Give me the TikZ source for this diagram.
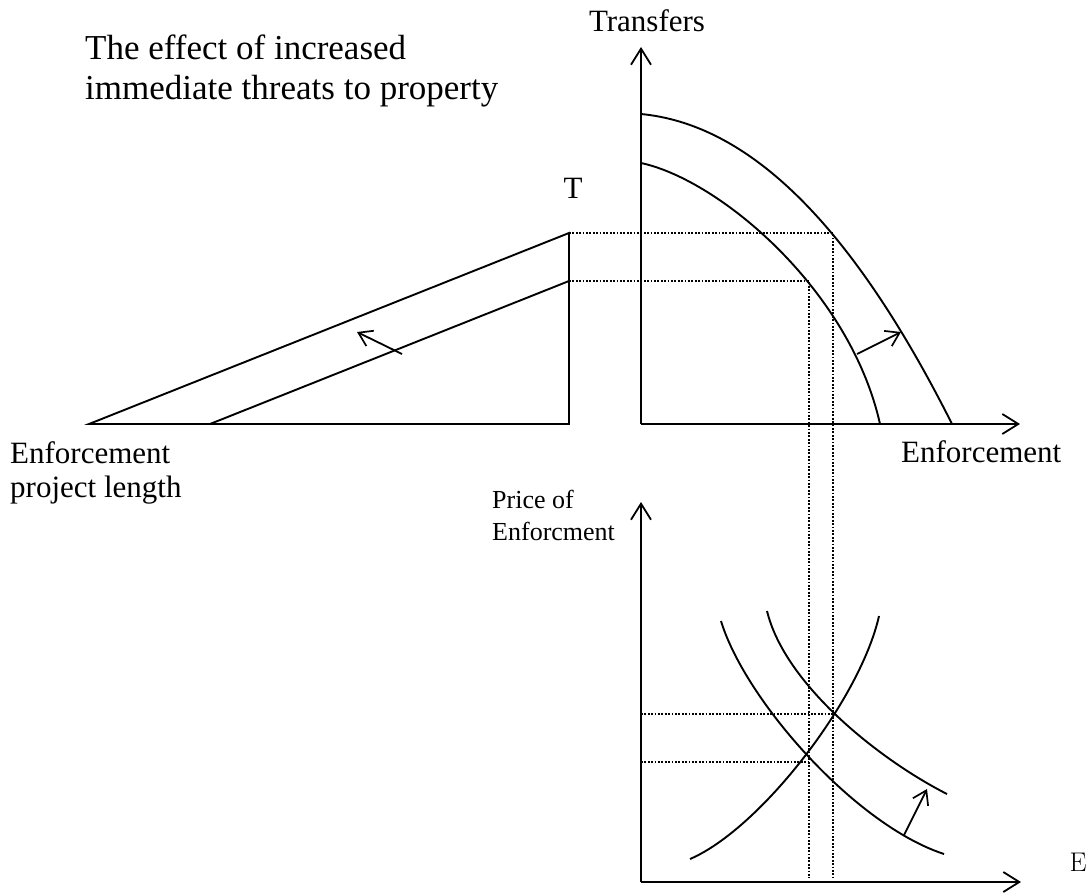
\documentclass[tikz,border=0pt]{standalone}
\usepackage{fontspec}
\newfontfamily\gar{Liberation Serif}
\usetikzlibrary{arrows.meta}
\begin{document}
\begin{tikzpicture}[x=1pt,y=-1pt,
  axis/.style={line width=2pt,-{Straight Barb[length=16pt,width=20pt,line width=1.8pt]}},
  curve/.style={line width=1.9pt},
  shift arrow/.style={line width=1.8pt,-{Straight Barb[length=13pt,width=17pt,line width=1.7pt]}},
  guide/.style={line width=1.3pt,dash pattern=on 1.8pt off 1.6pt},
  lbl/.style={inner sep=0pt,font=\gar}]
\useasboundingbox (0,0) rectangle (1091,892);
% ---------- coordinates ----------
\coordinate (O1) at (641,424);
\coordinate (Y1) at (641,47);
\coordinate (X1) at (1020,424);
\coordinate (O2) at (641,882);
\coordinate (Y2) at (641,502);
\coordinate (X2) at (1021,882);
\coordinate (TA) at (89,424);
\coordinate (TB) at (569,424);
\coordinate (TC) at (569,233);
\coordinate (TD) at (210,424);
\coordinate (TE) at (569,281);
% ---------- texts ----------
\node[lbl,anchor=west,align=left,font=\gar\fontsize{35}{40}\selectfont] (title) at (85,71)
  {The effect of increased\\immediate threats to property};
\node[lbl,font=\gar\fontsize{31}{34}\selectfont] (transfers) at (647,21) {Transfers};
\node[lbl,font=\gar\fontsize{31}{34}\selectfont] (tlabel) at (573,188) {T};
\node[lbl,anchor=west,font=\gar\fontsize{31}{34}\selectfont] (enfR) at (901,452) {Enforcement};
\node[lbl,anchor=west,align=left,font=\gar\fontsize{31}{34}\selectfont] (enfL) at (10,473)
  {Enforcement\\project length};
\node[lbl,anchor=west,align=left,font=\gar\fontsize{26}{32}\selectfont] (price) at (492,515)
  {Price of\\Enforcment};
\node[inner sep=0pt,font=\fontsize{27}{30}\selectfont] (elabel) at (1078,862) {E};
% ---------- dotted guides ----------
\draw[guide] (TC) -- (833,233) -- (833,878);
\draw[guide] (TE) -- (809,281) -- (809,878);
\draw[guide] (O2 |- 0,714) -- (833,714);
\draw[guide] (O2 |- 0,762) -- (809,762);
% ---------- triangle panel ----------
\draw[curve,line join=miter] (TA) -- (TB) -- (TC) -- cycle;
\draw[curve] (TD) -- (TE);
\draw[shift arrow] (402,354) -- (357,332);
% ---------- top right panel ----------
\draw[axis] (O1) -- (Y1);
\draw[axis] (O1) -- (X1);
\draw[curve] (641,114) .. controls (745,124) and (848,217) .. (952,424);
\draw[curve] (641,163) .. controls (720,180) and (850,290) .. (880,424);
\draw[shift arrow] (857,354) -- (901,332);
% ---------- bottom panel ----------
\draw[axis] (O2) -- (Y2);
\draw[axis] (O2) -- (X2);
\draw[curve] (690,859) .. controls (760,829) and (860,700) .. (879,616);
\draw[curve] (721,621) .. controls (745,700) and (855,825) .. (944,854);
\draw[curve] (767,611) .. controls (785,685) and (880,760) .. (947,794);
\draw[shift arrow] (904,835) -- (927,789);
\end{tikzpicture}
\end{document}
